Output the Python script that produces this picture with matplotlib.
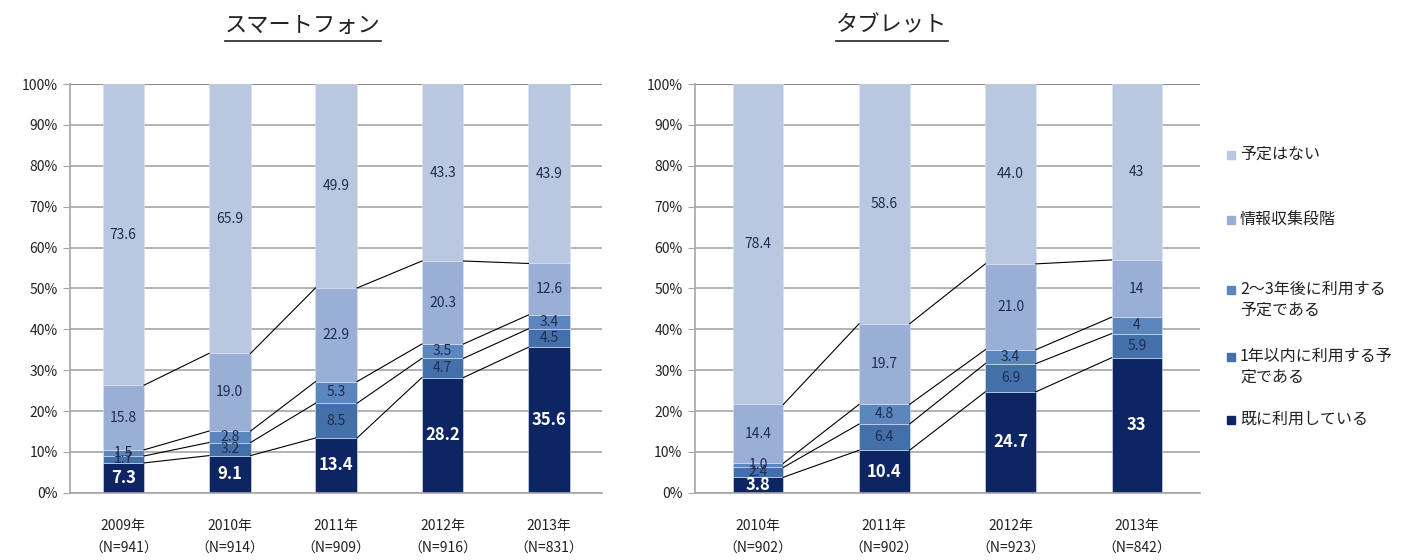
"""
Smartphone / tablet usage plans, 100% stacked bars
"""
import matplotlib
matplotlib.use('Agg')
import matplotlib.pyplot as plt
import numpy as np
from matplotlib.lines import Line2D
from matplotlib.patches import Rectangle

plt.rcParams['font.family'] = ['Noto Sans CJK JP', 'DejaVu Sans']

# series from bottom to top
series = ['既に利用している', '1年以内に利用する予\n定である', '2～3年後に利用する\n予定である',
          '情報収集段階', '予定はない']
colors = ['#0E2563', '#4470AA', '#5C86BE', '#9AAFD5', '#B9C7E1']

# smartphone
sp_years = ['2009年', '2010年', '2011年', '2012年', '2013年']
sp_n = ['941', '914', '909', '916', '831']
sp_labels = [
    ['7.3', '9.1', '13.4', '28.2', '35.6'],
    ['1.7', '3.2', '8.5', '4.7', '4.5'],
    ['1.5', '2.8', '5.3', '3.5', '3.4'],
    ['15.8', '19.0', '22.9', '20.3', '12.6'],
    ['73.6', '65.9', '49.9', '43.3', '43.9'],
]

# tablet
tb_years = ['2010年', '2011年', '2012年', '2013年']
tb_n = ['902', '902', '923', '842']
tb_labels = [
    ['3.8', '10.4', '24.7', '33'],
    ['2.4', '6.4', '6.9', '5.9'],
    ['1.0', '4.8', '3.4', '4'],
    ['14.4', '19.7', '21.0', '14'],
    ['78.4', '58.6', '44.0', '43'],
]


def draw(ax, years, ns, labels, width):
    x = np.arange(len(years))
    vals = np.array([[float(v) for v in row] for row in labels])
    vals = vals / vals.sum(axis=0) * 100  # 100% stacked
    bottom = np.zeros(len(years))
    for i, (row, lab) in enumerate(zip(vals, labels)):
        ax.bar(x, row, width, bottom=bottom, color=colors[i], zorder=2,
               edgecolor='#DDE4F0', linewidth=0.4)
        for xi, b, h, t in zip(x, bottom, row, lab):
            if i == 0:
                ax.text(xi, b + h / 2, t, ha='center', va='center', color='white',
                        fontsize=12, fontweight='bold', zorder=5)
            else:
                ax.text(xi, b + h / 2, t, ha='center', va='center', color='#1F2D4F',
                        fontsize=10, zorder=5)
        top = bottom + row
        # series lines between bars
        if i < len(vals) - 1:
            for j in range(len(x) - 1):
                ax.plot([x[j] + width / 2, x[j + 1] - width / 2], [top[j], top[j + 1]],
                        color='black', lw=0.8, zorder=4)
        bottom = top

    ax.set_xlim(-0.5, len(years) - 0.5)
    ax.set_ylim(0, 100)
    ax.set_yticks(np.arange(0, 101, 10))
    ax.set_yticklabels([f'{v}%' for v in range(0, 101, 10)], fontsize=10, color='#222222')
    ax.set_xticks(x)
    ax.set_xticklabels([f'{y}\n（N={n}）' for y, n in zip(years, ns)], fontsize=10,
                       color='#222222', linespacing=1.8)
    ax.yaxis.grid(True, color='#A6A6A6', lw=1.2, zorder=0)
    ax.set_axisbelow(True)
    ax.axhline(100, color='#8C8C8C', lw=1.5, zorder=1)
    for s in ['top', 'right']:
        ax.spines[s].set_visible(False)
    ax.spines['left'].set_color('#A6A6A6')
    ax.spines['bottom'].set_color('#A6A6A6')
    ax.spines['left'].set_linewidth(1.2)
    ax.spines['bottom'].set_linewidth(1.2)
    ax.tick_params(axis='y', length=5, color='#A6A6A6', pad=4)
    ax.tick_params(axis='x', length=0, pad=19)


fig = plt.figure(figsize=(14.01, 5.6), dpi=100)
ax1 = fig.add_axes([0.05, 0.12, 0.38, 0.73])
ax2 = fig.add_axes([0.496, 0.12, 0.3605, 0.73])

draw(ax1, sp_years, sp_n, sp_labels, 0.39)
draw(ax2, tb_years, tb_n, tb_labels, 0.40)

# underlined titles
t1 = fig.text(303 / 1401, 1 - 25 / 560, 'スマートフォン', ha='center', va='center', fontsize=16,
              color='#222222')
t2 = fig.text(892 / 1401, 1 - 25 / 560, 'タブレット', ha='center', va='center', fontsize=16,
              color='#222222')
fig.canvas.draw()
inv = fig.transFigure.inverted()
for t in (t1, t2):
    bb = t.get_window_extent().transformed(inv)
    fig.add_artist(Line2D([bb.x0, bb.x1], [1 - 41 / 560] * 2, color='#222222', lw=1.2,
                          transform=fig.transFigure))

# legend (top to bottom)
leg_y = [155, 220, 290, 357, 420]
for name, c, y in zip(series[::-1], colors[::-1], leg_y):
    fig.add_artist(Rectangle((1227 / 1401, 1 - (y + 4) / 560), 8 / 1401, 8 / 560,
                             transform=fig.transFigure, color=c))
    fig.text(1240 / 1401, 1 - (y - 9) / 560, name, ha='left', va='top', fontsize=11.5,
             color='#222222', linespacing=1.3)

plt.savefig('out.png', dpi=100)
